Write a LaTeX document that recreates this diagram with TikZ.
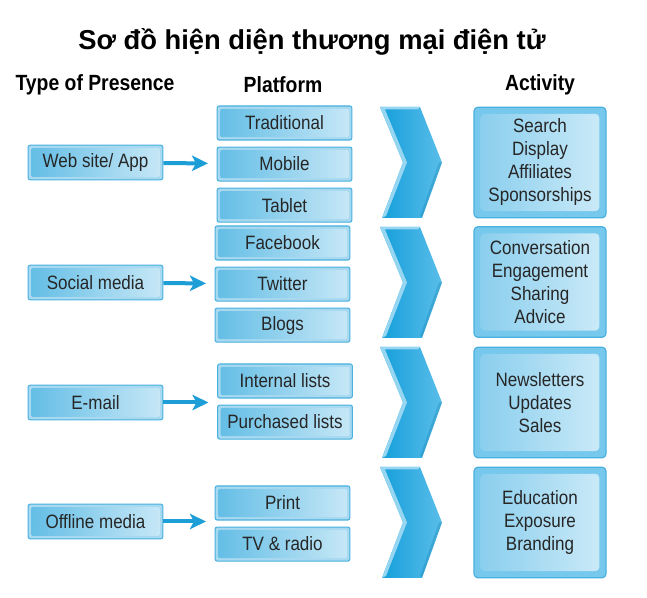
\documentclass[tikz,border=0pt]{standalone}
\usepackage{fontspec}
\setmainfont{Liberation Sans}
\newfontfamily\narrowsans{Liberation Sans}[FakeStretch=0.88]
\usepackage{tikz}
\usetikzlibrary{arrows.meta,positioning}

\definecolor{boxdark}{RGB}{98,189,229}
\definecolor{boxlight}{RGB}{200,232,247}
\definecolor{boxedge}{RGB}{72,177,223}
\definecolor{boxframe}{RGB}{168,217,240}
\definecolor{actouter}{RGB}{118,200,236}
\definecolor{actdark}{RGB}{135,205,237}
\definecolor{actlight}{RGB}{205,235,248}
\definecolor{chevblue}{RGB}{20,158,218}
\definecolor{chevright}{RGB}{90,190,233}
\definecolor{chevlight}{RGB}{150,214,241}
\definecolor{flowblue}{RGB}{30,158,215}

\tikzset{
  platbox/.style={rectangle, rounded corners=1.5pt, draw=boxedge, line width=0.8pt,
    fill=boxframe, minimum width=101pt, minimum height=25.5pt, inner sep=0pt,
    font=\narrowsans\fontsize{14.5}{15}\selectfont, text=black!85,
    path picture={\shade[left color=boxdark, right color=boxlight]
      ([shift={(2.2pt,-2.2pt)}]path picture bounding box.north west) rectangle
      ([shift={(-2.2pt,2.2pt)}]path picture bounding box.south east);}},
  typebox/.style={platbox, minimum height=26pt},
  actbox/.style={rectangle, rounded corners=3pt, draw=boxedge, line width=0.9pt,
    fill=actouter, minimum width=99pt, minimum height=83pt, inner sep=0pt,
    align=center, font=\narrowsans\fontsize{14.5}{17.25}\selectfont, text=black!85,
    path picture={\shade[left color=actdark, right color=actlight]
      ([shift={(5pt,-5pt)}]path picture bounding box.north west) rectangle
      ([shift={(-5pt,5pt)}]path picture bounding box.south east);}},
  head/.style={font=\narrowsans\bfseries\fontsize{16.5}{18}\selectfont},
  flow/.style={draw=flowblue, line width=3pt, shorten >=6.5pt,
    -{Stealth[length=12pt, width=11.5pt, inset=3pt]}}
}

\begin{document}
\begin{tikzpicture}[x=0.75pt, y=-0.75pt]

  \useasboundingbox (0,0) rectangle (647,598);

  % Title and headings
  \node[font=\bfseries\fontsize{20.5}{24}\selectfont] (title) at (312,42)
    {Sơ đồ hiện diện thương mại điện tử};
  \node[head] (htype) at (95,85) {Type of Presence};
  \node[head] (hplat) at (283,85) {Platform};
  \node[head] (hact) at (540,85) {Activity};

  % Type of presence
  \node[typebox] (web) at (95.5,162.5) {Web site/ App};
  \node[typebox] (social) at (95.5,282.5) {Social media};
  \node[typebox] (email) at (95.5,402.5) {E-mail};
  \node[typebox] (offline) at (95.5,521.5) {Offline media};

  % Platforms
  \node[platbox] (trad) at (284.5,123) {Traditional};
  \node[platbox, below=4.5pt of trad] (mobile) {Mobile};
  \node[platbox, below=4.5pt of mobile] (tablet) {Tablet};
  \node[platbox] (fb) at (282.5,243) {Facebook};
  \node[platbox, below=4.5pt of fb] (twitter) {Twitter};
  \node[platbox, below=4.5pt of twitter] (blogs) {Blogs};
  \node[platbox] (intl) at (285,381) {Internal lists};
  \node[platbox, below=4.5pt of intl] (purch) {Purchased lists};
  \node[platbox] (print) at (282.5,503) {Print};
  \node[platbox, below=4.5pt of print] (tv) {TV \& radio};

  % Arrows
  \draw[flow] (web) -- (mobile);
  \draw[flow] (social) -- (twitter);
  \draw[flow] (email) -- (email -| intl.west);
  \draw[flow] (offline) -- (offline -| print.west);

  % Chevrons
  \foreach \top/\bot in {107/218, 227/338, 347/458, 467/578} {
    \pgfmathsetmacro{\mid}{(\top+\bot)/2}
    \shade[left color=chevblue, right color=chevright]
      (380,\top) -- (420,\top) -- (442,\mid) -- (422,\bot) -- (382,\bot)
      -- (403,\mid) -- cycle;
    \fill[chevlight] (380,\top) -- (420,\top) -- (418,\top+2.5) -- (385,\top+2.5)
      -- (407,\mid) -- (386,\bot-2) -- (382,\bot) -- (403,\mid) -- cycle;
    \fill[chevblue!80!black, opacity=0.3] (442,\mid) -- (422,\bot) -- (420,\bot-2)
      -- (439,\mid) -- cycle;
  }

  % Activities
  \node[actbox] (act1) at (540,162.5) {Search\\Display\\Affiliates\\Sponsorships};
  \node[actbox] (act2) at (540,282) {Conversation\\Engagement\\Sharing\\Advice};
  \node[actbox] (act3) at (540,402.5) {Newsletters\\Updates\\Sales};
  \node[actbox] (act4) at (540,522.5) {Education\\Exposure\\Branding};

\end{tikzpicture}
\end{document}
